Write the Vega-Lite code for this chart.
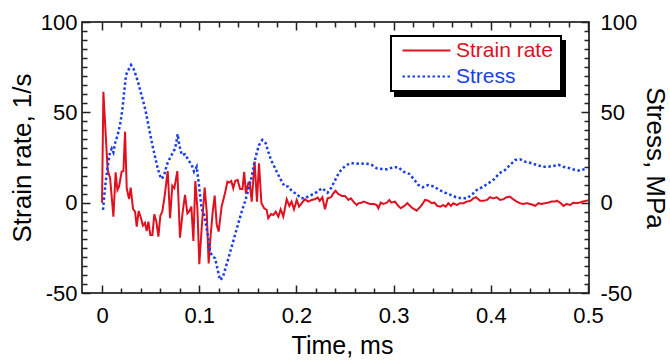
{
  "$schema": "https://vega.github.io/schema/vega-lite/v6.json",
  "width": 507,
  "height": 271,
  "autosize": {"type": "none"},
  "padding": {"left": 82, "top": 22, "right": 81, "bottom": 68},
  "config": {
    "font": "Liberation Sans",
    "view": {"stroke": "#000", "strokeWidth": 1.5},
    "axis": {
      "domain": false, "grid": false, "ticks": true, "tickColor": "#222222", "tickOpacity": 1, "tickWidth": 1.5, "tickSize": 8, "offset": -8,
      "labelFontSize": 22, "titleFontSize": 26, "labelColor": "#000", "titleColor": "#000",
      "titleFontWeight": "normal", "labelFont": "Liberation Sans", "titleFont": "Liberation Sans", "zindex": 1
    },
    "legend": {"labelFont": "Liberation Sans", "labelFontSize": 21, "titleFont": "Liberation Sans", "titleFontSize": 21}
  },
  "datasets": {
    "strain": [
      {"t":0,"v":0},{"t":0.0014,"v":61.4},{"t":0.0058,"v":18},{"t":0.0083,"v":13.7},{"t":0.0117,"v":-7.7},{"t":0.014,"v":16.8},{"t":0.0158,"v":7},{"t":0.0175,"v":8.9},{"t":0.0202,"v":17.2},{"t":0.022,"v":17.5},{"t":0.0237,"v":39.3},{"t":0.0254,"v":8},{"t":0.0278,"v":2},{"t":0.0295,"v":8.3},{"t":0.0319,"v":-3.5},{"t":0.034,"v":-5},{"t":0.0357,"v":-13.3},{"t":0.0377,"v":-4.6},{"t":0.0401,"v":-8.6},{"t":0.042,"v":-12.7},{"t":0.0442,"v":-11.2},{"t":0.046,"v":-15.7},{"t":0.0477,"v":-10.5},{"t":0.0497,"v":-17.9},{"t":0.0518,"v":-17.9},{"t":0.0538,"v":-6.4},{"t":0.0559,"v":-10.5},{"t":0.058,"v":-18.8},{"t":0.06,"v":-7.2},{"t":0.062,"v":-5},{"t":0.0641,"v":2.4},{"t":0.0676,"v":17.5},{"t":0.07,"v":-8.6},{"t":0.0723,"v":9.4},{"t":0.0744,"v":8},{"t":0.0775,"v":17.5},{"t":0.0802,"v":-19.4},{"t":0.083,"v":-5},{"t":0.0854,"v":4.3},{"t":0.0878,"v":-5.9},{"t":0.0899,"v":-4.6},{"t":0.0919,"v":-2.2},{"t":0.094,"v":-21.2},{"t":0.096,"v":12},{"t":0.0981,"v":-3.1},{"t":0.1001,"v":-34},{"t":0.1025,"v":-14.2},{"t":0.1056,"v":8.3},{"t":0.1077,"v":-5},{"t":0.1097,"v":-33.6},{"t":0.1118,"v":-17.9},{"t":0.1139,"v":-5},{"t":0.1159,"v":3.9},{"t":0.118,"v":-12.3},{"t":0.12,"v":-16},{"t":0.123,"v":-2.2},{"t":0.1265,"v":5.2},{"t":0.129,"v":11.6},{"t":0.131,"v":11.1},{"t":0.133,"v":12},{"t":0.135,"v":8},{"t":0.137,"v":12},{"t":0.1395,"v":12.6},{"t":0.142,"v":7.6},{"t":0.1445,"v":7.6},{"t":0.1463,"v":17},{"t":0.148,"v":5},{"t":0.1505,"v":11},{"t":0.152,"v":11.4},{"t":0.154,"v":0.6},{"t":0.157,"v":22.7},{"t":0.1594,"v":0.6},{"t":0.1615,"v":21.8},{"t":0.164,"v":-0.3},{"t":0.1668,"v":-3.1},{"t":0.1694,"v":-4},{"t":0.171,"v":-8.6},{"t":0.1739,"v":-6.3},{"t":0.1763,"v":-6.8},{"t":0.1787,"v":-5},{"t":0.1814,"v":-7.7},{"t":0.1838,"v":-3.7},{"t":0.1865,"v":-7.7},{"t":0.19,"v":1.9},{"t":0.1927,"v":-1.8},{"t":0.195,"v":0.6},{"t":0.1975,"v":-3.7},{"t":0.2003,"v":1.5},{"t":0.2027,"v":-2.2},{"t":0.2054,"v":-0.3},{"t":0.2088,"v":1.9},{"t":0.212,"v":0.6},{"t":0.2157,"v":1.5},{"t":0.219,"v":1.9},{"t":0.222,"v":2.8},{"t":0.224,"v":1},{"t":0.2267,"v":3},{"t":0.2294,"v":-3.7},{"t":0.232,"v":2.4},{"t":0.2356,"v":3},{"t":0.238,"v":5.2},{"t":0.2403,"v":6.6},{"t":0.243,"v":4.8},{"t":0.2466,"v":3.7},{"t":0.25,"v":3.7},{"t":0.2534,"v":1.5},{"t":0.256,"v":2.4},{"t":0.2586,"v":0.6},{"t":0.262,"v":-1.3},{"t":0.264,"v":-0.3},{"t":0.2672,"v":0},{"t":0.269,"v":0.6},{"t":0.272,"v":0},{"t":0.2757,"v":-0.7},{"t":0.279,"v":-0.7},{"t":0.2826,"v":-1.3},{"t":0.2843,"v":-3.1},{"t":0.2867,"v":0},{"t":0.2895,"v":-0.7},{"t":0.293,"v":0},{"t":0.2956,"v":1.5},{"t":0.2977,"v":0},{"t":0.3014,"v":0.6},{"t":0.304,"v":-1.3},{"t":0.3073,"v":-3.1},{"t":0.311,"v":-1.8},{"t":0.3142,"v":-0.3},{"t":0.317,"v":-1.8},{"t":0.3196,"v":-3.1},{"t":0.3237,"v":-4.4},{"t":0.326,"v":-3.1},{"t":0.329,"v":-1.3},{"t":0.3323,"v":1.5},{"t":0.336,"v":1},{"t":0.3392,"v":-0.3},{"t":0.342,"v":0},{"t":0.345,"v":-1.8},{"t":0.348,"v":-2.2},{"t":0.351,"v":-1.3},{"t":0.3536,"v":-2.2},{"t":0.3563,"v":-0.3},{"t":0.359,"v":-1.8},{"t":0.3614,"v":-0.3},{"t":0.365,"v":-1.3},{"t":0.3683,"v":-0.3},{"t":0.372,"v":-0.3},{"t":0.3752,"v":0.6},{"t":0.379,"v":1},{"t":0.382,"v":2.4},{"t":0.3848,"v":3},{"t":0.3889,"v":1.1},{"t":0.393,"v":1.1},{"t":0.396,"v":1.5},{"t":0.3992,"v":3},{"t":0.4026,"v":2.4},{"t":0.406,"v":3},{"t":0.4095,"v":1.5},{"t":0.413,"v":1.9},{"t":0.416,"v":3},{"t":0.4198,"v":3.3},{"t":0.423,"v":1.9},{"t":0.4266,"v":0.6},{"t":0.43,"v":-0.3},{"t":0.4335,"v":-0.7},{"t":0.437,"v":-0.3},{"t":0.4403,"v":-0.7},{"t":0.4438,"v":-1.3},{"t":0.4455,"v":-1.8},{"t":0.449,"v":-0.3},{"t":0.452,"v":-0.7},{"t":0.4555,"v":-0.3},{"t":0.459,"v":0},{"t":0.4625,"v":0.6},{"t":0.466,"v":0.6},{"t":0.468,"v":1.1},{"t":0.472,"v":-0.3},{"t":0.4746,"v":-1.8},{"t":0.478,"v":-0.7},{"t":0.4815,"v":-1.3},{"t":0.485,"v":0},{"t":0.4875,"v":-0.3},{"t":0.491,"v":0},{"t":0.495,"v":0.6},{"t":0.4986,"v":1.1},{"t":0.5,"v":1.2}
    ],
    "stress": [
      {"t":0.001,"v":-4},{"t":0.0024,"v":4.3},{"t":0.0038,"v":11.6},{"t":0.0058,"v":19.9},{"t":0.0082,"v":27.9},{"t":0.01,"v":30},{"t":0.0117,"v":27.9},{"t":0.0134,"v":32.9},{"t":0.0161,"v":37.5},{"t":0.0185,"v":43},{"t":0.0209,"v":51.3},{"t":0.023,"v":62.4},{"t":0.0247,"v":70.7},{"t":0.0271,"v":73.4},{"t":0.0298,"v":76.2},{"t":0.0322,"v":74.4},{"t":0.0347,"v":70.7},{"t":0.0374,"v":66.1},{"t":0.0401,"v":60.5},{"t":0.0425,"v":55.9},{"t":0.045,"v":50.4},{"t":0.047,"v":44.8},{"t":0.0494,"v":38.4},{"t":0.0518,"v":31.9},{"t":0.0545,"v":25.5},{"t":0.0573,"v":19},{"t":0.0597,"v":14.9},{"t":0.0614,"v":13.1},{"t":0.064,"v":15.3},{"t":0.0666,"v":20.9},{"t":0.0689,"v":23.6},{"t":0.0716,"v":26.4},{"t":0.0744,"v":29.2},{"t":0.0761,"v":32.3},{"t":0.0778,"v":37.9},{"t":0.0795,"v":31.9},{"t":0.082,"v":26.4},{"t":0.0854,"v":26.8},{"t":0.0888,"v":23.6},{"t":0.0923,"v":20.9},{"t":0.0947,"v":17.2},{"t":0.0974,"v":19.9},{"t":0.0991,"v":12.6},{"t":0.1008,"v":4.3},{"t":0.1026,"v":-3.5},{"t":0.1049,"v":-6.4},{"t":0.107,"v":-12.3},{"t":0.1094,"v":-19.7},{"t":0.1111,"v":-27.1},{"t":0.1139,"v":-29.9},{"t":0.1163,"v":-30.8},{"t":0.1186,"v":-36.3},{"t":0.1214,"v":-42.8},{"t":0.1242,"v":-41.5},{"t":0.1265,"v":-37.2},{"t":0.13,"v":-30.8},{"t":0.1334,"v":-24.3},{"t":0.1368,"v":-17.9},{"t":0.1402,"v":-11.4},{"t":0.1437,"v":-5},{"t":0.1471,"v":0.6},{"t":0.1505,"v":7},{"t":0.154,"v":14.4},{"t":0.1566,"v":21.8},{"t":0.159,"v":27.3},{"t":0.1615,"v":31.9},{"t":0.1649,"v":34.7},{"t":0.1684,"v":32.9},{"t":0.171,"v":28.2},{"t":0.1739,"v":23.6},{"t":0.1773,"v":19.9},{"t":0.1797,"v":17.2},{"t":0.1831,"v":13.5},{"t":0.1876,"v":9.2},{"t":0.1917,"v":8.9},{"t":0.1958,"v":6.1},{"t":0.2003,"v":4.8},{"t":0.2047,"v":2.4},{"t":0.2088,"v":2.4},{"t":0.213,"v":3.7},{"t":0.2174,"v":4.8},{"t":0.2219,"v":6.1},{"t":0.226,"v":8},{"t":0.2287,"v":7},{"t":0.2321,"v":5.5},{"t":0.2355,"v":8},{"t":0.239,"v":11.6},{"t":0.2425,"v":15.3},{"t":0.2459,"v":18.1},{"t":0.25,"v":20.3},{"t":0.2551,"v":21.8},{"t":0.2603,"v":21.8},{"t":0.2654,"v":21.4},{"t":0.2706,"v":21.8},{"t":0.2775,"v":20.9},{"t":0.2826,"v":19},{"t":0.2877,"v":18.6},{"t":0.2935,"v":18.5},{"t":0.2997,"v":19.6},{"t":0.3048,"v":19.6},{"t":0.31,"v":17.2},{"t":0.3162,"v":15.9},{"t":0.321,"v":12.9},{"t":0.3254,"v":9.8},{"t":0.33,"v":8.5},{"t":0.3357,"v":9.8},{"t":0.3416,"v":8.9},{"t":0.347,"v":7},{"t":0.3529,"v":5.5},{"t":0.3587,"v":4.3},{"t":0.3642,"v":3},{"t":0.37,"v":2.4},{"t":0.3752,"v":2.4},{"t":0.3803,"v":4.3},{"t":0.3855,"v":7},{"t":0.3923,"v":8.9},{"t":0.3974,"v":10.7},{"t":0.4033,"v":12.9},{"t":0.4088,"v":16.3},{"t":0.4146,"v":18.1},{"t":0.4198,"v":20.9},{"t":0.425,"v":23.6},{"t":0.43,"v":24},{"t":0.4352,"v":22.7},{"t":0.4403,"v":22.1},{"t":0.4472,"v":20.9},{"t":0.4534,"v":19.9},{"t":0.4592,"v":19.9},{"t":0.4643,"v":20.3},{"t":0.4695,"v":20.9},{"t":0.4746,"v":19.9},{"t":0.4815,"v":19},{"t":0.4866,"v":18.1},{"t":0.4918,"v":17.7},{"t":0.4986,"v":19}
    ]
  },
  "layer": [
    {
      "data": {"name": "strain"},
      "mark": {"type": "line", "strokeWidth": 2, "clip": true},
      "encoding": {
        "x": {
          "field": "t", "type": "quantitative",
          "scale": {"domain": [-0.0206, 0.501], "nice": false, "zero": false},
          "axis": {
            "orient": "bottom", "title": "Time, ms", "titleX": 260, "titleFontSize": 25,
            "values": [0,0.02,0.04,0.06,0.08,0.1,0.12,0.14,0.16,0.18,0.2,0.22,0.24,0.26,0.28,0.3,0.32,0.34,0.36,0.38,0.4,0.42,0.44,0.46,0.48,0.5],
            "tickDash": {"condition": {"test": "abs(datum.value*10 - round(datum.value*10)) < 0.000001", "value": [1, 0]}, "value": [0, 3, 5, 20]},
            "labelExpr": "abs(datum.value*10 - round(datum.value*10)) < 0.000001 ? format(datum.value, '~g') : ''",
            "labelPadding": 12, "titlePadding": 7, "labelFlush": false, "labelOverlap": false
          }
        },
        "y": {
          "field": "v", "type": "quantitative",
          "scale": {"domain": [-50, 100], "nice": false, "zero": false},
          "axis": {
            "orient": "left", "title": "Strain rate, 1/s",
            "values": [-50,-45,-40,-35,-30,-25,-20,-15,-10,-5,0,5,10,15,20,25,30,35,40,45,50,55,60,65,70,75,80,85,90,95,100],
            "tickDash": {"condition": {"test": "datum.value % 50 === 0", "value": [1, 0]}, "value": [0, 3, 5, 20]},
            "labelExpr": "datum.value % 50 === 0 ? '' + datum.value : ''",
            "labelPadding": 5, "titlePadding": 5, "labelFlush": false, "labelOverlap": false
          }
        },
        "color": {
          "datum": "Strain rate", "type": "nominal",
          "scale": {"domain": ["Strain rate", "Stress"], "range": ["#e0101e", "#1a3ee6"]},
          "legend": {
            "title": " ", "titleOrient": "right", "titlePadding": 4,
            "orient": "none", "legendX": 309, "legendY": 14, "zindex": 2,
            "symbolType": "M-4,0H4", "symbolSize": 144, "symbolStrokeWidth": 2, "symbolOffset": 21,
            "labelOffset": 19, "padding": 4, "rowPadding": 4,
            "fillColor": "#ffffff", "strokeColor": "#000000", "cornerRadius": 0,
            "encode": {
              "legend": {"update": {"strokeWidth": {"value": 2}}},
              "labels": {"update": {"fill": {"signal": "datum.value === 'Stress' ? '#1a3ee6' : '#e0101e'"}}}
            }
          }
        },
        "strokeDash": {
          "datum": "Strain rate", "type": "nominal",
          "scale": {"domain": ["Strain rate", "Stress"], "range": [[1, 0], [2.5, 2.5]]}
        },
        "opacity": {
          "datum": "Strain rate", "type": "nominal",
          "scale": {"domain": ["Stress", "Strain rate"], "range": [1, 1]},
          "legend": {
            "title": " ", "titleOrient": "right", "titlePadding": 4,
            "orient": "none", "legendX": 313, "legendY": 19, "zindex": 1,
            "symbolType": "M-4,0H4", "symbolSize": 144, "symbolStrokeWidth": 2, "symbolOffset": 21,
            "symbolStrokeColor": "#000", "labelColor": "#000",
            "labelOffset": 19, "padding": 4, "rowPadding": 4,
            "fillColor": "#000000", "strokeColor": "#000000", "cornerRadius": 0,
            "encode": {"legend": {"update": {"strokeWidth": {"value": 2}}}}
          }
        }
      }
    },
    {
      "data": {"name": "stress"},
      "mark": {"type": "line", "strokeWidth": 2.5, "clip": true},
      "encoding": {
        "x": {
          "field": "t", "type": "quantitative",
          "scale": {"domain": [-0.0206, 0.501], "nice": false, "zero": false},
          "axis": {
            "orient": "top", "title": null, "labels": false,
            "values": [0,0.02,0.04,0.06,0.08,0.1,0.12,0.14,0.16,0.18,0.2,0.22,0.24,0.26,0.28,0.3,0.32,0.34,0.36,0.38,0.4,0.42,0.44,0.46,0.48,0.5],
            "tickDash": {"condition": {"test": "abs(datum.value*10 - round(datum.value*10)) < 0.000001", "value": [1, 0]}, "value": [0, 3, 5, 20]}
          }
        },
        "y": {
          "field": "v", "type": "quantitative",
          "scale": {"domain": [-50, 100], "nice": false, "zero": false},
          "axis": {
            "orient": "right", "title": "Stress, MPa",
            "values": [-50,-45,-40,-35,-30,-25,-20,-15,-10,-5,0,5,10,15,20,25,30,35,40,45,50,55,60,65,70,75,80,85,90,95,100],
            "tickDash": {"condition": {"test": "datum.value % 50 === 0", "value": [1, 0]}, "value": [0, 3, 5, 20]},
            "labelExpr": "datum.value % 50 === 0 ? '' + datum.value : ''",
            "labelPadding": 11, "titlePadding": 5, "labelFlush": false, "labelOverlap": false
          }
        },
        "color": {"datum": "Stress", "type": "nominal"},
        "strokeDash": {"datum": "Stress", "type": "nominal"},
        "opacity": {"datum": "Stress", "type": "nominal"}
      }
    }
  ],
  "resolve": {"scale": {"y": "independent"}, "axis": {"x": "independent"}}
}
